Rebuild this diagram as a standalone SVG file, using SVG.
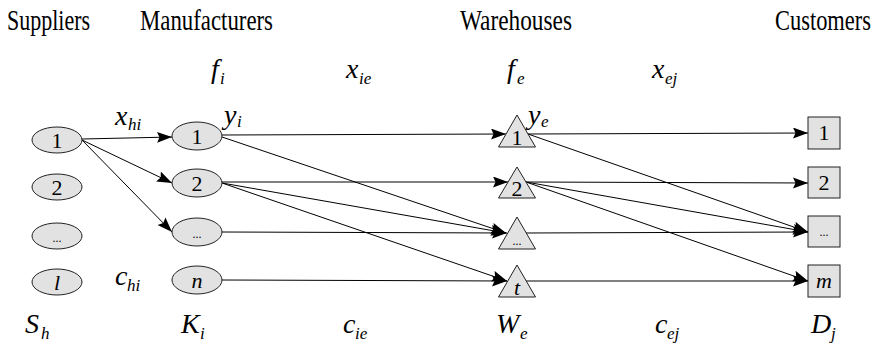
<svg xmlns="http://www.w3.org/2000/svg" width="877" height="354" viewBox="0 0 877 354">
<style>
text{font-family:Liberation Serif,Times New Roman,serif;fill:#000}
.n{fill:#e2e2e2;stroke:#222;stroke-width:1}
.e{fill:none;stroke:#000;stroke-width:1;marker-end:url(#ah)}
.h{font-size:22px}
.l{font-size:22px;text-anchor:middle}
.d{font-size:12px;text-anchor:middle}
.m{font-size:28px;font-style:italic}
.s{font-size:17px;font-style:italic}
.li{font-size:22px;font-style:italic;text-anchor:middle}
</style>
<defs>
<marker id="ah" markerUnits="userSpaceOnUse" markerWidth="16" markerHeight="12" refX="15" refY="5.5" orient="auto">
<path d="M0,0 L15,5.5 L0,11 L2.5,5.5 z" fill="#000"/>
</marker>
</defs>
<rect width="877" height="354" fill="#fff"/>
<g id="headers">
<text class="h" transform="translate(7,30) scale(1,1.3)">Suppliers</text>
<text class="h" transform="translate(140,30) scale(1,1.3)" textLength="133" lengthAdjust="spacingAndGlyphs">Manufacturers</text>
<text class="h" transform="translate(460,30) scale(1,1.3)" textLength="112" lengthAdjust="spacingAndGlyphs">Warehouses</text>
<text class="h" transform="translate(775,30) scale(1,1.3)" textLength="96" lengthAdjust="spacingAndGlyphs">Customers</text>
</g>
<g id="connectors">
<line class="e" x1="82" y1="139" x2="172" y2="137"/>
<line class="e" x1="82" y1="140" x2="172" y2="183"/>
<line class="e" x1="82" y1="140" x2="172" y2="232"/>
<line class="e" x1="222" y1="135" x2="506" y2="134"/>
<line class="e" x1="222" y1="137" x2="506" y2="233"/>
<line class="e" x1="222" y1="182" x2="508" y2="182"/>
<line class="e" x1="222" y1="183" x2="506" y2="233"/>
<line class="e" x1="222" y1="183" x2="507" y2="281"/>
<line class="e" x1="222" y1="232" x2="507" y2="233"/>
<line class="e" x1="222" y1="280" x2="507" y2="281"/>
<line class="e" x1="528" y1="134" x2="808" y2="133"/>
<line class="e" x1="528" y1="134" x2="808" y2="232"/>
<line class="e" x1="526" y1="182" x2="808" y2="183"/>
<line class="e" x1="526" y1="182" x2="808" y2="232"/>
<line class="e" x1="526" y1="182" x2="808" y2="281"/>
<line class="e" x1="526" y1="233" x2="808" y2="232"/>
<line class="e" x1="526" y1="281" x2="808" y2="281"/>
</g>
<g id="supplier-1"><ellipse class="n" cx="57" cy="140" rx="25" ry="13"/><text class="l" x="57" y="148">1</text></g>
<g id="supplier-2"><ellipse class="n" cx="57" cy="187" rx="25" ry="13"/><text class="l" x="57" y="195">2</text></g>
<g id="supplier-3"><ellipse class="n" cx="57" cy="236" rx="25" ry="13"/><text class="d" x="57" y="242">...</text></g>
<g id="supplier-l"><ellipse class="n" cx="57" cy="282" rx="25" ry="13"/><text class="li" x="57" y="290">l</text></g>
<g id="manufacturer-1"><ellipse class="n" cx="197" cy="136" rx="25" ry="14"/><text class="l" x="197" y="144">1</text></g>
<g id="manufacturer-2"><ellipse class="n" cx="197" cy="183" rx="25" ry="14"/><text class="l" x="197" y="191">2</text></g>
<g id="manufacturer-3"><ellipse class="n" cx="197" cy="232" rx="25" ry="14"/><text class="d" x="197" y="238">...</text></g>
<g id="manufacturer-n"><ellipse class="n" cx="197" cy="280" rx="25" ry="14"/><text class="li" x="197" y="288">n</text></g>
<g id="warehouse-1"><polygon class="n" points="517,115 535.5,147 498.5,147"/><text class="l" x="517" y="145">1</text></g>
<g id="warehouse-2"><polygon class="n" points="517,167 535.5,198 498.5,198"/><text class="l" x="517" y="196">2</text></g>
<g id="warehouse-3"><polygon class="n" points="517,217 535.5,249 498.5,249"/><text class="d" x="517" y="245">...</text></g>
<g id="warehouse-t"><polygon class="n" points="517,265 535.5,297 498.5,297"/><text class="li" x="517" y="295">t</text></g>
<g id="customer-1"><rect class="n" x="808" y="117" width="32" height="32"/><text class="l" x="824" y="140">1</text></g>
<g id="customer-2"><rect class="n" x="808" y="167" width="32" height="31"/><text class="l" x="824" y="190">2</text></g>
<g id="customer-3"><rect class="n" x="808" y="216" width="32" height="31"/><text class="d" x="824" y="236">...</text></g>
<g id="customer-m"><rect class="n" x="808" y="265" width="32" height="32"/><text class="li" x="824" y="288">m</text></g>
<g id="labels">
<text class="m" x="211" y="78">f</text><text class="s" x="220" y="84">i</text>
<text class="m" x="346" y="78">x</text><text class="s" x="359" y="84">ie</text>
<text class="m" x="507" y="78">f</text><text class="s" x="517" y="84">e</text>
<text class="m" x="652" y="78">x</text><text class="s" x="665" y="84">ej</text>
<text class="m" x="115" y="125">x</text><text class="s" x="128" y="130">hi</text>
<text class="m" x="224" y="124">y</text><text class="s" x="237" y="127">i</text>
<text class="m" x="528" y="124">y</text><text class="s" x="541" y="127">e</text>
<text class="m" x="115" y="285">c</text><text class="s" x="127" y="291">hi</text>
<text class="m" x="25" y="333">S</text><text class="s" x="41" y="339">h</text>
<text class="m" x="181" y="333">K</text><text class="s" x="200" y="339">i</text>
<text class="m" x="343" y="333">c</text><text class="s" x="355" y="339">ie</text>
<text class="m" x="496" y="333">W</text><text class="s" x="520" y="339">e</text>
<text class="m" x="655" y="333">c</text><text class="s" x="667" y="339">ej</text>
<text class="m" x="811" y="333">D</text><text class="s" x="831" y="339">j</text>
</g>
</svg>
